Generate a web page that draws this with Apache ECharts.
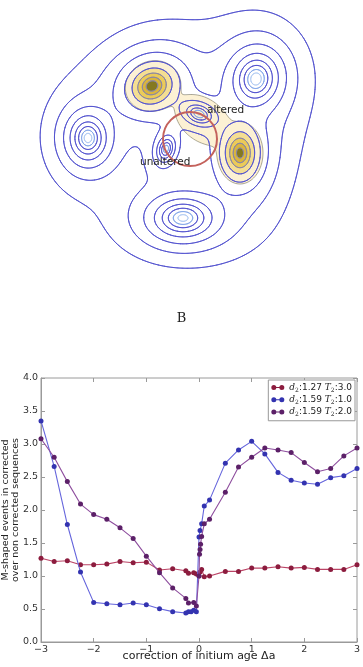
<!DOCTYPE html>
<html>
<head>
<meta charset="utf-8">
<script src="https://cdn.jsdelivr.net/npm/echarts@6/dist/echarts.min.js"></script>
<style>
  html, body { margin: 0; padding: 0; background: #fff; }
  #main { width: 363px; height: 667px; }
</style>
</head>
<body>
<div id="main"></div>
<script>
// ---------- panel B : line chart values ----------
const xRed = [-3, -2.75, -2.5, -2.25, -2, -1.75, -1.5, -1.25, -1, -0.75, -0.5, -0.25, -0.2, -0.1, -0.05, 0, 0.02, 0.05, 0.1, 0.2, 0.5, 0.75, 1, 1.25, 1.5, 1.75, 2, 2.25, 2.5, 2.75, 3];
const yRed = [1.27, 1.22, 1.23, 1.17, 1.17, 1.18, 1.22, 1.2, 1.21, 1.09, 1.11, 1.08, 1.04, 1.05, 1.03, 1.0, 1.06, 1.1, 0.99, 1.0, 1.07, 1.07, 1.12, 1.12, 1.14, 1.12, 1.13, 1.1, 1.1, 1.1, 1.17];

const xBlue = [-3, -2.75, -2.5, -2.25, -2, -1.75, -1.5, -1.25, -1, -0.75, -0.5, -0.25, -0.2, -0.15, -0.1, -0.05, 0, 0.02, 0.05, 0.1, 0.2, 0.5, 0.75, 1, 1.25, 1.5, 1.75, 2, 2.25, 2.5, 2.75, 3];
const yBlue = [3.35, 2.66, 1.78, 1.06, 0.6, 0.58, 0.565, 0.59, 0.565, 0.505, 0.46, 0.44, 0.46, 0.46, 0.48, 0.46, 1.59, 1.69, 1.79, 2.06, 2.15, 2.71, 2.91, 3.04, 2.85, 2.57, 2.45, 2.41, 2.39, 2.49, 2.52, 2.63];

const xPurple = [-3, -2.75, -2.5, -2.25, -2, -1.75, -1.5, -1.25, -1, -0.75, -0.5, -0.25, -0.2, -0.1, -0.05, 0, 0.01, 0.02, 0.03, 0.05, 0.1, 0.2, 0.5, 0.75, 1, 1.25, 1.5, 1.75, 2, 2.25, 2.5, 2.75, 3];
const yPurple = [3.08, 2.8, 2.43, 2.09, 1.93, 1.86, 1.73, 1.57, 1.3, 1.05, 0.82, 0.66, 0.59, 0.6, 0.545, 1.0, 1.33, 1.4, 1.48, 1.6, 1.79, 1.86, 2.27, 2.65, 2.8, 2.94, 2.91, 2.87, 2.72, 2.58, 2.63, 2.82, 2.94];

const legendD = ['1.27', '1.59', '1.59'];
const legendT = ['3.0', '1.0', '2.0'];

// ---------- panel A : density sketch values (picture units) ----------
// heavy-tailed blobs: top-left, top-right, left, altered, unaltered, right, bottom
const blobX = [152, 256, 88, 199, 166, 240, 183];
const blobY = [86, 79, 138, 114, 149, 153, 218];
const blobRx = [7.0, 5.0, 4.5, 5.5, 3.0, 5.6, 8.0];
const blobRy = [6.0, 5.8, 5.5, 3.6, 4.6, 8.0, 5.3];
const blobTilt = [-25, 10, 0, 20, 15, 0, 0];
const blobWeight = [0.3, 0.6, 0.3, -0.4, -0.6, 0.0, 0.0];
const contourLevels = [-0.5, -1.35, -2.2, -3.05, -3.9, -4.75, -5.6, -6.5];
const yellowBlobs = [0, 5];

// pale yellow band (three overlapping ellipses)
const paleX = [153, 203, 240];
const paleY = [86, 120, 153];
const paleRx = [28, 31, 23];
const paleRy = [25, 21, 31];
const paleTilt = [-20, 38, 0];

const circleCenter = [190, 139];
const circleRadius = 27;
const labelText = ['altered', 'unaltered'];
const labelX = [207, 140];
const labelY = [110, 162];

// ---------- field helpers ----------
function ellDist(cx, cy, rx, ry, tilt, x, y) {
  const t = tilt * Math.PI / 180, c = Math.cos(t), s = Math.sin(t);
  const dx = x - cx, dy = y - cy;
  const u = dx * c + dy * s, v = -dx * s + dy * c;
  return Math.sqrt((u / rx) * (u / rx) + (v / ry) * (v / ry));
}
function blobLog(i, x, y) {
  const d = ellDist(blobX[i], blobY[i], blobRx[i], blobRy[i], blobTilt[i], x, y);
  return blobWeight[i] - 1.5 * Math.log(1 + d * d);
}
function blueField(x, y) {
  let s = 0;
  for (let i = 0; i < blobX.length; i++) s += Math.exp(blobLog(i, x, y));
  return Math.log(s);
}
function paleField(x, y) {
  let s = 0;
  for (let j = 0; j < paleX.length; j++) {
    s += Math.exp(-6 * ellDist(paleX[j], paleY[j], paleRx[j], paleRy[j], paleTilt[j], x, y));
  }
  return -Math.log(s) / 6;
}
function yellowClass(x, y) {
  if (paleField(x, y) > 1) return 0;
  let cls = 1;
  yellowBlobs.forEach(i => {
    const v = blobLog(i, x, y);
    let c = 1;
    if (v > contourLevels[0]) c = 5;
    else if (v > contourLevels[1]) c = 4;
    else if (v > contourLevels[2]) c = 3;
    else if (v > contourLevels[3]) c = 2;
    cls = Math.max(cls, c);
  });
  return cls;
}

function march(vals, nx, ny, x0, y0, step, level) {
  const segs = [];
  for (let j = 0; j < ny - 1; j++) {
    for (let i = 0; i < nx - 1; i++) {
      const v0 = vals[j * nx + i], v1 = vals[j * nx + i + 1];
      const v2 = vals[(j + 1) * nx + i + 1], v3 = vals[(j + 1) * nx + i];
      const b0 = v0 > level, b1 = v1 > level, b2 = v2 > level, b3 = v3 > level;
      if (b0 === b1 && b1 === b2 && b2 === b3) continue;
      const x = x0 + i * step, y = y0 + j * step;
      const e = [];
      if (b0 !== b1) e[0] = [x + step * (level - v0) / (v1 - v0), y];
      if (b1 !== b2) e[1] = [x + step, y + step * (level - v1) / (v2 - v1)];
      if (b3 !== b2) e[2] = [x + step * (level - v3) / (v2 - v3), y + step];
      if (b0 !== b3) e[3] = [x, y + step * (level - v0) / (v3 - v0)];
      const k = [0, 1, 2, 3].filter(n => e[n]);
      if (k.length === 2) segs.push([e[k[0]], e[k[1]]]);
      else if (k.length === 4) {
        const c = (v0 + v1 + v2 + v3) / 4 > level;
        if (c === b0) { segs.push([e[0], e[1]]); segs.push([e[2], e[3]]); }
        else { segs.push([e[3], e[0]]); segs.push([e[1], e[2]]); }
      }
    }
  }
  return segs;
}

// sample fields once
const FX0 = 5, FY0 = 0, FSTEP = 1.25;
const fnx = Math.floor((358 - FX0) / FSTEP) + 1, fny = Math.floor((299 - FY0) / FSTEP) + 1;
const blueVals = new Float32Array(fnx * fny);
for (let j = 0; j < fny; j++) for (let i = 0; i < fnx; i++) {
  blueVals[j * fnx + i] = blueField(FX0 + i * FSTEP, FY0 + j * FSTEP);
}
const PX0 = 105, PY0 = 45, PSTEP = 1;
const pnx = 180, pny = 160;
const paleVals = new Float32Array(pnx * pny);
for (let j = 0; j < pny; j++) for (let i = 0; i < pnx; i++) {
  paleVals[j * pnx + i] = -paleField(PX0 + i * PSTEP, PY0 + j * PSTEP);
}
const contourSegs = contourLevels.map(l => march(blueVals, fnx, fny, FX0, FY0, FSTEP, l));
const paleSegs = march(paleVals, pnx, pny, PX0, PY0, PSTEP, -1);
const fillRows = [];
for (let y = PY0; y < PY0 + pny; y++) {
  let start = PX0, cur = yellowClass(PX0 + 0.5, y + 0.5);
  for (let x = PX0 + 1; x <= PX0 + pnx; x++) {
    const c = x < PX0 + pnx ? yellowClass(x + 0.5, y + 0.5) : -1;
    if (c !== cur) {
      if (cur > 0) fillRows.push([cur, start, y, x - start]);
      start = x; cur = c;
    }
  }
}

const fillColors = [null, '#fcf1d4', '#f4de92', '#ebcb58', '#d9b53e', '#85791f'];
const lightLine = ['#b3cdf4', '#86a9ea'];
const blueLine = '#5454d0';
const grayLine = '#8a86a6';

function renderSketch(params, api) {
  const o = api.coord([0, 0]), e = api.coord([1, 1]);
  const sx = e[0] - o[0], sy = e[1] - o[1];
  const P = p => (o[0] + p[0] * sx).toFixed(2) + ' ' + (o[1] + p[1] * sy).toFixed(2);
  const kids = [];
  // yellow fills
  for (let c = 1; c < fillColors.length; c++) {
    let d = '';
    fillRows.forEach(r => {
      if (r[0] !== c) return;
      d += 'M' + P([r[1], r[2]]) + 'L' + P([r[1] + r[3], r[2]]) + 'L' + P([r[1] + r[3], r[2] + 1.02]) + 'L' + P([r[1], r[2] + 1.02]) + 'Z';
    });
    if (d) kids.push({ type: 'path', shape: { pathData: d }, style: { fill: fillColors[c], stroke: null } });
  }
  // pale outline
  let pd = '';
  paleSegs.forEach(s => { pd += 'M' + P(s[0]) + 'L' + P(s[1]); });
  kids.push({ type: 'path', shape: { pathData: pd }, style: { fill: 'none', stroke: '#77735e', lineWidth: 0.8, opacity: 0.75 } });
  // contour lines
  contourSegs.forEach((segs, li) => {
    let dBlue = '', dGray = '';
    segs.forEach(s => {
      const mx = (s[0][0] + s[1][0]) / 2, my = (s[0][1] + s[1][1]) / 2;
      const piece = 'M' + P(s[0]) + 'L' + P(s[1]);
      if (yellowClass(mx, my) >= 2) dGray += piece; else dBlue += piece;
    });
    const col = li < 2 ? lightLine[li] : blueLine;
    if (dBlue) kids.push({ type: 'path', shape: { pathData: dBlue }, style: { fill: 'none', stroke: col, lineWidth: 1, lineCap: 'round' } });
    if (dGray) kids.push({ type: 'path', shape: { pathData: dGray }, style: { fill: 'none', stroke: grayLine, lineWidth: 1, lineCap: 'round' } });
  });
  // red circle
  const cc = api.coord(circleCenter);
  kids.push({ type: 'circle', shape: { cx: cc[0], cy: cc[1], r: circleRadius * sx }, style: { fill: 'none', stroke: '#c4625c', lineWidth: 2 } });
  // labels
  labelText.forEach((t, i) => {
    const p = api.coord([labelX[i], labelY[i]]);
    kids.push({ type: 'text', style: { text: t, x: p[0], y: p[1], fill: '#222', fontSize: 10.5, fontFamily: 'DejaVu Sans', align: 'left', verticalAlign: 'middle' } });
  });
  return { type: 'group', children: kids };
}

// ---------- chart ----------
const markerColors = ['#8c1c3e', '#3333b0', '#5c2068'];
const lineColors = ['#bb4466', '#6565dc', '#8e4e9e'];
const seriesX = [xRed, xBlue, xPurple];
const seriesY = [yRed, yBlue, yPurple];
const names = legendD.map((d, i) => 'd2:' + d + ' T2:' + legendT[i]);

const chart = echarts.init(document.getElementById('main'), null, { renderer: 'canvas' });
const lineSeries = names.map((n, k) => ({
  name: n,
  type: 'line',
  xAxisIndex: 0,
  yAxisIndex: 0,
  data: seriesX[k].map((x, i) => [x, seriesY[k][i]]),
  symbol: 'circle',
  symbolSize: 5,
  clip: false,
  lineStyle: { color: lineColors[k], width: 1.1 },
  itemStyle: { color: markerColors[k] },
  z: 3 + k
}));

const axisGray = '#9a9a9a';
const option = {
  animation: false,
  backgroundColor: '#fff',
  textStyle: { fontFamily: 'DejaVu Sans' },
  title: {
    text: 'B', left: 'center', top: 307,
    textStyle: { fontFamily: 'DejaVu Serif', fontSize: 13, fontWeight: 'normal', color: '#222' }
  },
  legend: {
    data: names,
    orient: 'vertical',
    right: 8,
    top: 380,
    itemWidth: 13,
    itemHeight: 5,
    itemGap: 2,
    padding: [3, 3, 3, 3],
    backgroundColor: '#fff',
    borderColor: '#999',
    borderWidth: 1,
    borderRadius: 0,
    icon: 'path://M2.5,0A2.5,2.5,0,1,1,2.5,5A2.5,2.5,0,1,1,2.5,0ZM2.5,2.1L10.5,2.1L10.5,2.9L2.5,2.9ZM10.5,0A2.5,2.5,0,1,1,10.5,5A2.5,2.5,0,1,1,10.5,0Z',
    formatter: name => {
      const i = names.indexOf(name);
      return '{i|d}{s|2}{n|:' + legendD[i] + ' }{i|T}{s|2}{n|:' + legendT[i] + '}';
    },
    textStyle: {
      color: '#222',
      rich: {
        i: { fontFamily: 'DejaVu Serif', fontStyle: 'italic', fontSize: 9, lineHeight: 11.5 },
        s: { fontFamily: 'DejaVu Serif', fontSize: 6, lineHeight: 8, verticalAlign: 'bottom' },
        n: { fontFamily: 'DejaVu Sans', fontSize: 9, lineHeight: 11.5 }
      }
    }
  },
  grid: [
    {
      left: 41, top: 378, right: 6, bottom: 25, outerBoundsMode: 'none',
      show: true, borderColor: axisGray, borderWidth: 1, backgroundColor: 'transparent'
    },
    { left: 0, top: 0, width: 363, height: 300, outerBoundsMode: 'none' }
  ],
  xAxis: [
    {
      type: 'value', gridIndex: 0, min: -3, max: 3, interval: 1,
      axisLine: { show: true, onZero: false, lineStyle: { color: axisGray } },
      axisTick: { inside: true, length: 4, lineStyle: { color: axisGray } },
      splitLine: { show: false },
      axisLabel: {
        color: '#333', fontSize: 9.5, margin: 3,
        formatter: v => (v < 0 ? '\u2212' + Math.abs(v) : String(v))
      },
      name: 'correction of initium age \u0394a',
      nameLocation: 'middle',
      nameGap: 9,
      nameMoveOverlap: false,
      nameTextStyle: { color: '#222', fontSize: 11 }
    },
    {
      type: 'value', gridIndex: 0, position: 'top', min: -3, max: 3, interval: 1,
      axisLine: { show: false, onZero: false },
      axisTick: { inside: true, length: 4, lineStyle: { color: axisGray } },
      axisLabel: { show: false }, splitLine: { show: false }
    },
    { type: 'value', gridIndex: 1, min: 0, max: 363, show: false }
  ],
  yAxis: [
    {
      type: 'value', gridIndex: 0, min: 0, max: 4, interval: 0.5,
      axisLine: { show: true, onZero: false, lineStyle: { color: axisGray } },
      axisTick: { inside: true, length: 4, lineStyle: { color: axisGray } },
      splitLine: { show: false },
      axisLabel: { color: '#333', fontSize: 9.5, margin: 3, formatter: v => v.toFixed(1) },
      name: 'M-shaped events in corrected\nover non corrected sequences',
      nameLocation: 'middle',
      nameRotate: 90,
      nameGap: 20,
      nameMoveOverlap: false,
      nameTextStyle: { color: '#222', fontSize: 9.5, lineHeight: 10.5 }
    },
    {
      type: 'value', gridIndex: 0, position: 'right', min: 0, max: 4, interval: 0.5,
      axisLine: { show: false, onZero: false },
      axisTick: { inside: true, length: 4, lineStyle: { color: axisGray } },
      axisLabel: { show: false }, splitLine: { show: false }
    },
    { type: 'value', gridIndex: 1, min: 0, max: 300, inverse: true, show: false }
  ],
  series: [
    {
      type: 'custom',
      xAxisIndex: 2,
      yAxisIndex: 2,
      data: [[0, 0]],
      silent: true,
      renderItem: renderSketch,
      z: 1
    }
  ].concat(lineSeries)
};
chart.setOption(option);
</script>
</body>
</html>
